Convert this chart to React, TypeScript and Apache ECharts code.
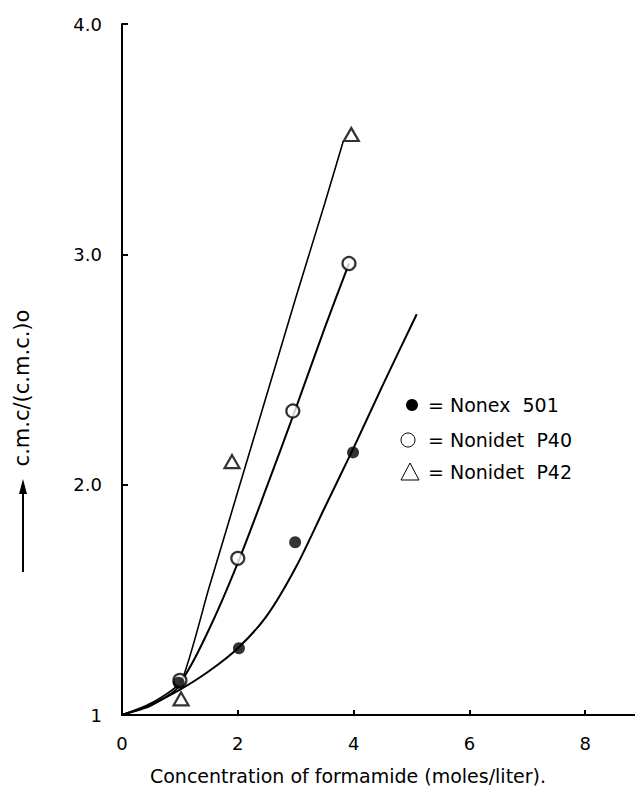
import React, { useEffect, useRef } from "react";
import * as echarts from "echarts";

// Measured data points (x = formamide mol/l, y = cmc ratio)
const nonexPoints = [[0.98, 1.14], [2.02, 1.29], [2.99, 1.75], [3.99, 2.14]];
const p40Points = [[1.0, 1.15], [2.0, 1.68], [2.95, 2.32], [3.92, 2.96]];
const p42Points = [[1.02, 1.07], [1.9, 2.1], [3.96, 3.52]];

// Hand-drawn fitted curves
const nonexCurve = [[0, 1], [0.5, 1.045], [1, 1.11], [1.5, 1.19], [2, 1.29], [2.5, 1.43], [3, 1.64], [3.5, 1.9], [4, 2.16], [4.5, 2.43], [5.09, 2.74]];
const p40Curve = [[0, 1], [0.5, 1.05], [1, 1.14], [1.5, 1.37], [2, 1.66], [2.5, 1.99], [3, 2.33], [3.5, 2.68], [3.92, 2.96]];
const p42Curve = [[0, 1], [0.5, 1.04], [1, 1.13], [1.5, 1.55], [2, 1.97], [2.5, 2.39], [3, 2.81], [3.5, 3.22], [3.82, 3.49]];

const xTickValues = [0, 2, 4, 6, 8];
const xTickLabels = ["0", "2", "4", "6", "8"];
const yTickValues = [1, 2, 3, 4];
const yTickLabels = ["1", "2.0", "3.0", "4.0"];
const legendLabels = ["= Nonex  501", "= Nonidet  P40", "= Nonidet  P42"];
const xTitle = "Concentration of formamide (moles/liter).";
const yTitle = "c.m.c/(c.m.c.)o";

const FONT = "DejaVu Sans";

export default function App() {
  const ref = useRef<HTMLDivElement>(null);
  useEffect(() => {
    if (!ref.current) return;
    const chart = echarts.init(ref.current, undefined, { renderer: "svg" });
    const curveStyle = { color: "#000", width: 2 };
    chart.setOption({
      animation: false,
      backgroundColor: "#fff",
      grid: { left: 122, right: 0, top: 24, bottom: 78, containLabel: false },
      xAxis: {
        type: "value",
        min: 0,
        max: 8.86,
        interval: 2,
        axisLine: { lineStyle: { color: "#000", width: 2 } },
        axisTick: { inside: true, length: 5, customValues: [2, 4, 6, 8], lineStyle: { color: "#000", width: 2 } },
        axisLabel: {
          customValues: xTickValues,
          formatter: (v: number) => xTickLabels[xTickValues.indexOf(v)] ?? "",
          color: "#000",
          fontSize: 18,
          fontFamily: FONT,
          margin: 19,
        },
        splitLine: { show: false },
      },
      yAxis: {
        type: "value",
        min: 1,
        max: 4,
        interval: 1,
        axisLine: { lineStyle: { color: "#000", width: 2 } },
        axisTick: { inside: true, length: 6, customValues: [2, 3, 4], lineStyle: { color: "#000", width: 2 } },
        axisLabel: {
          customValues: yTickValues,
          formatter: (v: number) => yTickLabels[yTickValues.indexOf(v)] ?? "",
          color: "#000",
          fontSize: 18,
          fontFamily: FONT,
          margin: 20,
        },
        splitLine: { show: false },
      },
      series: [
        { type: "line", data: nonexCurve, smooth: 0.3, showSymbol: false, lineStyle: curveStyle, z: 2 },
        { type: "line", data: p40Curve, smooth: 0.3, showSymbol: false, lineStyle: curveStyle, z: 2 },
        { type: "line", data: p42Curve, smooth: 0.2, showSymbol: false, lineStyle: { color: "#000", width: 1.6 }, z: 2 },
        {
          type: "scatter", data: nonexPoints, symbol: "circle", symbolSize: 12,
          itemStyle: { color: "#000" }, z: 4,
        },
        {
          type: "scatter", data: p40Points, symbol: "circle", symbolSize: 13,
          itemStyle: { color: "#fff", borderColor: "#000", borderWidth: 2.2 }, z: 3,
        },
        {
          type: "scatter", data: p42Points, symbol: "triangle", symbolSize: [15, 13],
          itemStyle: { color: "#fff", borderColor: "#000", borderWidth: 2.2 }, z: 3,
        },
      ],
      graphic: [
        {
          type: "text", x: 22, y: 388, rotation: Math.PI / 2,
          style: { text: yTitle, fontSize: 21, fontFamily: FONT, fill: "#000", align: "center", verticalAlign: "middle" },
        },
        { type: "line", shape: { x1: 23, y1: 572, x2: 23, y2: 490 }, style: { stroke: "#000", lineWidth: 2 } },
        { type: "polygon", shape: { points: [[23, 479], [19, 494], [27, 494]] }, style: { fill: "#000" } },
        {
          type: "text", x: 348, y: 776,
          style: { text: xTitle, fontSize: 19, fontFamily: FONT, fill: "#000", align: "center", verticalAlign: "middle" },
        },
        { type: "circle", shape: { cx: 412, cy: 405, r: 6 }, style: { fill: "#000" } },
        { type: "circle", shape: { cx: 408, cy: 440, r: 7 }, style: { fill: "none", stroke: "#000", lineWidth: 1 } },
        { type: "polygon", shape: { points: [[410, 463], [401, 480], [419, 480]] }, style: { fill: "none", stroke: "#000", lineWidth: 1 } },
        ...legendLabels.map((t, i) => ({
          type: "text", x: 428, y: [405, 440, 472][i],
          style: { text: t, fontSize: 19, fontFamily: FONT, fill: "#000", align: "left", verticalAlign: "middle" },
        })),
      ],
    });
    return () => chart.dispose();
  }, []);
  return <div ref={ref} style={{ position: "fixed", left: 0, top: 0, width: 635, height: 793 }} />;
}
